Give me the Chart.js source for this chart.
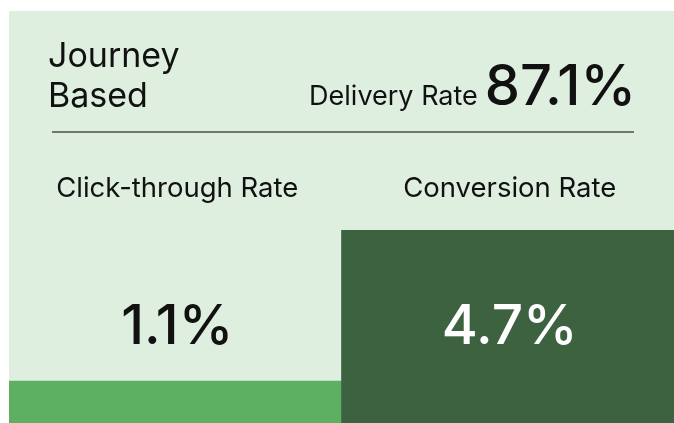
<!DOCTYPE html>
<html>
<head>
<meta charset="utf-8">
<script src="https://cdn.jsdelivr.net/npm/chart.js@4"></script>
<style>
  html, body { margin: 0; padding: 0; background: #ffffff; }
  #card { position: absolute; left: 9px; top: 11px; width: 665px; height: 412px; background: #deeedf; }
  #c { position: absolute; left: 0; top: 0; }
</style>
</head>
<body>
<div id="card"></div>
<canvas id="c" width="674" height="423"></canvas>
<script>
const categories = ['Click-through Rate', 'Conversion Rate'];
const values = [1.1, 4.7];
const titleLines = ['Journey', 'Based'];
const headlineLabel = 'Delivery Rate';
const headlineValue = 87.1;

const FONT = 'Inter, "Noto Sans", sans-serif';

const textPlugin = {
  id: 'cardText',
  afterDatasetsDraw(chart) {
    const ctx = chart.ctx;
    ctx.save();
    ctx.textBaseline = 'alphabetic';
    // title
    ctx.fillStyle = '#111111';
    ctx.textAlign = 'left';
    ctx.font = '400 34px ' + FONT;
    ctx.fillText(titleLines[0], 48, 67);
    ctx.fillText(titleLines[1], 48, 107);
    // headline value (right aligned)
    ctx.textAlign = 'right';
    ctx.font = '500 56px ' + FONT;
    const valTxt = headlineValue.toFixed(1) + '%';
    ctx.fillText(valTxt, 636, 105);
    const vw = ctx.measureText(valTxt).width;
    ctx.font = '400 27px ' + FONT;
    ctx.fillText(headlineLabel, 636 - vw - 7, 105);
    // divider
    ctx.strokeStyle = '#4a4f4a';
    ctx.lineWidth = 1.5;
    ctx.beginPath();
    ctx.moveTo(52, 132);
    ctx.lineTo(634, 132);
    ctx.stroke();
    // categories + values
    const meta = chart.getDatasetMeta(0);
    ctx.textAlign = 'center';
    meta.data.forEach((bar, i) => {
      const x = bar.x + 2;
      ctx.fillStyle = '#111111';
      ctx.font = '400 27.5px ' + FONT;
      ctx.fillText(categories[i], x, 197);
      ctx.fillStyle = i === 1 ? '#ffffff' : '#111111';
      ctx.font = '500 55px ' + FONT;
      ctx.fillText(values[i].toFixed(1) + '%', x, 344);
    });
    ctx.restore();
  }
};

new Chart(document.getElementById('c'), {
  type: 'bar',
  data: {
    labels: categories,
    datasets: [{
      data: values,
      backgroundColor: ['#5daf61', '#3d6240'],
      borderWidth: 0,
      barPercentage: 1,
      categoryPercentage: 1
    }]
  },
  options: {
    responsive: false,
    animation: false,
    layout: { padding: { left: 9, right: 0, top: 230, bottom: 0 } },
    plugins: { legend: { display: false }, tooltip: { enabled: false }, title: { display: false } },
    scales: {
      x: { display: false },
      y: { display: false, min: 0.1, max: 4.7 }
    }
  },
  plugins: [textPlugin]
});
</script>
</body>
</html>
